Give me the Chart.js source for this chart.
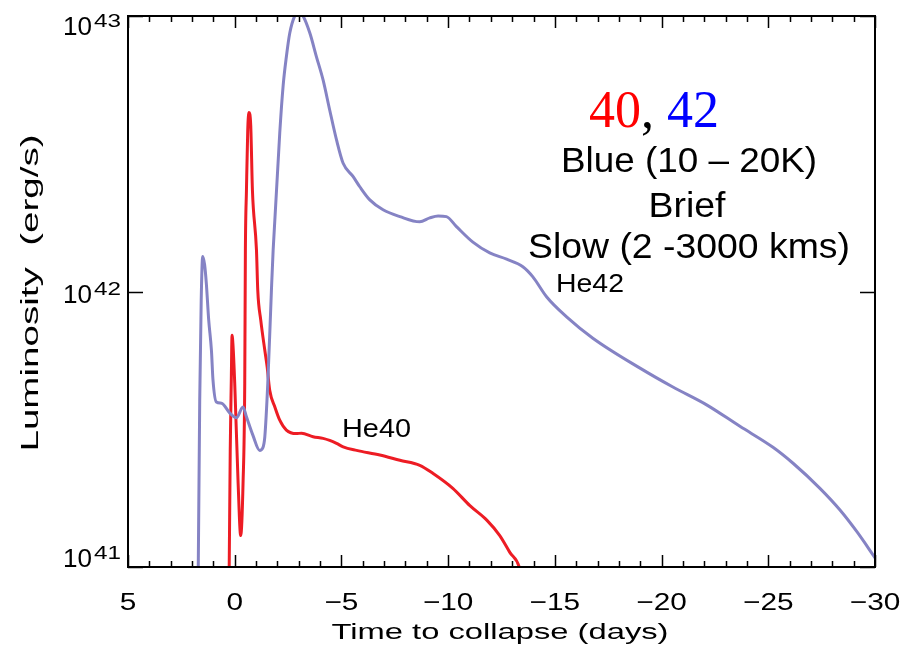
<html lang="en">
<head>
  <meta charset="UTF-8">
  <title>He40 / He42 luminosity</title>
  <script src="https://cdn.jsdelivr.net/npm/chart.js"></script>
  <style>
    body, html {
      margin: 0;
      padding: 0;
      background-color: #ffffff;
    }
    #lumChart {
      display: block;
    }
  </style>
</head>
<body>
  <canvas id="lumChart" width="908" height="654"></canvas>

  <script>
    // He42 (purple) - days to collapse vs luminosity
    const he42Days = [1.74, 1.64, 1.57, 1.50, 1.41, 1.33, 1.22, 1.09, 1.02, 0.86, 0.62, 0.23, -0.08, -0.39, -0.55,
      -0.85, -1.17, -1.31, -1.41, -1.55, -1.72, -1.80, -2.11, -2.27, -2.42, -2.58, -2.81, -3.0, -3.20, -3.52,
      -3.83, -4.14, -4.45, -4.77, -5.08, -5.55, -5.86, -6.33, -6.95, -7.74, -8.67, -9.14, -9.53, -9.92, -10.39,
      -11.16, -11.95, -12.74, -13.50, -13.97, -14.61, -15.55, -16.78, -18.99, -20.53, -22.13, -23.67, -25.22,
      -26.16, -27.42, -28.36, -29.16, -30.0];
    const he42Lum = [5e40, 4.0e41, 9.3e41, 1.34e42, 1.25e42, 1.07e42, 7.9e41, 6.1e41, 4.8e41, 3.97e41, 3.93e41, 3.62e41, 3.48e41, 3.81e41, 3.51e41,
      3.01e41, 2.65e41, 2.70e41, 2.97e41, 4.65e41, 1.01e42, 1.41e42, 3.76e42, 5.6e42, 7.11e42, 8.67e42, 1.0e43, 1.03e43, 1.0e43, 8.67e42,
      7.11e42, 5.86e42, 4.56e42, 3.55e42, 2.92e42, 2.61e42, 2.40e42, 2.15e42, 1.98e42, 1.87e42, 1.79e42, 1.85e42, 1.88e42, 1.87e42, 1.72e42,
      1.51e42, 1.38e42, 1.31e42, 1.23e42, 1.13e42, 9.57e41, 8.09e41, 6.77e41, 5.27e41, 4.50e41, 3.87e41, 3.24e41, 2.72e41,
      2.38e41, 1.93e41, 1.61e41, 1.34e41, 1.08e41];

    // He40 (red)
    const he40Days = [0.29, 0.21, 0.16, 0.125, 0.08, 0.0, -0.16, -0.28, -0.39, -0.47, -0.50, -0.55, -0.61, -0.67, -0.75,
      -0.83, -1.02, -1.08, -1.22, -1.41, -1.52, -1.64, -1.88, -2.11, -2.42, -2.89, -3.13, -3.67, -4.14, -4.45,
      -4.77, -5.08, -5.71, -6.80, -7.74, -8.67, -9.28, -10.22, -11.02, -11.81, -12.42, -12.89, -13.33, -13.45];
    const he40Lum = [5e40, 2.65e41, 4.77e41, 6.94e41, 6.38e41, 4.65e41, 2.01e41, 1.30e41, 2.01e41, 4.65e41, 1.41e42, 2.33e42, 3.85e42, 4.46e42, 4.02e42,
      2.33e42, 1.41e42, 1.01e42, 7.87e41, 6.12e41, 5.33e41, 4.38e41, 3.81e41, 3.41e41, 3.14e41, 3.05e41, 3.06e41, 2.97e41, 2.93e41, 2.88e41,
      2.81e41, 2.73e41, 2.65e41, 2.55e41, 2.44e41, 2.34e41, 2.19e41, 1.93e41, 1.67e41, 1.48e41, 1.30e41, 1.13e41, 1.0e41, 9e40];

    const xMajorTicks = [5, 0, -5, -10, -15, -20, -25, -30];
    const yMajorTicks = [1e41, 1e42, 1e43];

    const toPoints = (xs, ys) => xs.map((x, i) => ({ x: x, y: ys[i] }));

    // wide glyphs like the IDL vector font: stretch text to a width
    function stretchText(ctx, text, x, y, width, align) {
      const w = ctx.measureText(text).width;
      ctx.save();
      ctx.translate(x, y);
      ctx.scale(width / w, 1);
      ctx.textAlign = align;
      ctx.fillText(text, 0, 0);
      ctx.restore();
    }

    const framePlugin = {
      id: 'idlFrame',
      afterDatasetsDraw(chart) {
        const ctx = chart.ctx;
        const xs = chart.scales.x;
        const ys = chart.scales.y;
        const a = chart.chartArea;
        ctx.save();
        ctx.strokeStyle = '#000';
        ctx.fillStyle = '#000';
        ctx.lineWidth = 2;
        ctx.strokeRect(a.left, a.top, a.right - a.left, a.bottom - a.top);

        // x ticks, top and bottom, minor every day
        ctx.lineWidth = 1.5;
        for (let d = -30; d <= 5; d++) {
          const px = Math.round(xs.getPixelForValue(d)) + 0.5;
          const len = (d % 5 === 0) ? 12 : 6;
          ctx.beginPath();
          ctx.moveTo(px, a.bottom); ctx.lineTo(px, a.bottom - len);
          ctx.moveTo(px, a.top); ctx.lineTo(px, a.top + len);
          ctx.stroke();
        }
        // y ticks, left and right
        yMajorTicks.forEach(v => {
          const py = Math.round(ys.getPixelForValue(v)) + 0.5;
          ctx.beginPath();
          ctx.moveTo(a.left, py); ctx.lineTo(a.left + 15, py);
          ctx.moveTo(a.right, py); ctx.lineTo(a.right - 15, py);
          ctx.stroke();
        });

        ctx.textBaseline = 'alphabetic';

        // x tick labels
        ctx.font = '24px "Liberation Sans"';
        xMajorTicks.forEach(v => {
          const label = v < 0 ? '\u2212' + Math.abs(v) : String(v);
          const w = ctx.measureText(label).width * 1.24;
          stretchText(ctx, label, xs.getPixelForValue(v), 610, w, 'center');
        });

        // y tick labels 10^n
        const yLabelBase = { 41: 567, 42: 303, 43: 35 };
        yMajorTicks.forEach(v => {
          const e = Math.round(Math.log10(v));
          const base = yLabelBase[e];
          ctx.font = '18px "Liberation Sans"';
          stretchText(ctx, String(e), 121, base - 8, 27, 'right');
          ctx.font = '26px "Liberation Sans"';
          stretchText(ctx, '10', 92, base, 29, 'right');
        });

        // axis titles
        ctx.font = '22px "Liberation Sans"';
        stretchText(ctx, 'Time to collapse (days)', 500, 639, 337, 'center');
        ctx.save();
        ctx.translate(38, 293);
        ctx.rotate(-Math.PI / 2);
        ctx.font = '23px "Liberation Sans"';
        stretchText(ctx, 'Luminosity  (erg/s)', 0, 0, 317, 'center');
        ctx.restore();

        // curve labels
        ctx.font = '25px "Liberation Sans"';
        stretchText(ctx, 'He40', 342, 437, 69, 'left');
        stretchText(ctx, 'He42', 556, 292, 68, 'left');

        // annotation block
        ctx.font = '52px "Liberation Serif"';
        ctx.textAlign = 'left';
        let tx = 589;
        ctx.fillStyle = '#ff0000';
        ctx.fillText('40', tx, 127);
        tx += ctx.measureText('40').width;
        ctx.fillStyle = '#000000';
        ctx.fillText(', ', tx, 127);
        tx += ctx.measureText(', ').width;
        ctx.fillStyle = '#0000ff';
        ctx.fillText('42', tx, 127);

        ctx.fillStyle = '#000000';
        ctx.font = '35px "Liberation Sans"';
        stretchText(ctx, 'Blue (10 \u2013 20K)', 689, 172, 256, 'center');
        stretchText(ctx, 'Brief', 687, 217, 77, 'center');
        stretchText(ctx, 'Slow (2 -3000 kms)', 689, 258, 322, 'center');
        ctx.restore();
      }
    };

    const ctx = document.getElementById('lumChart').getContext('2d');
    const lumChart = new Chart(ctx, {
      type: 'scatter',
      data: {
        datasets: [
          {
            label: 'He42',
            data: toPoints(he42Days, he42Lum),
            showLine: true,
            borderColor: 'rgb(133,131,196)',
            borderWidth: 3,
            pointRadius: 0,
            cubicInterpolationMode: 'monotone'
          },
          {
            label: 'He40',
            data: toPoints(he40Days, he40Lum),
            showLine: true,
            borderColor: 'rgb(237,28,36)',
            borderWidth: 3,
            pointRadius: 0,
            cubicInterpolationMode: 'monotone'
          }
        ]
      },
      options: {
        responsive: false,
        animation: false,
        layout: {
          padding: { left: 128, right: 33, top: 16, bottom: 87 }
        },
        scales: {
          x: {
            type: 'linear',
            min: -30,
            max: 5,
            reverse: true,
            display: false
          },
          y: {
            type: 'logarithmic',
            min: 1e41,
            max: 1e43,
            display: false
          }
        },
        plugins: {
          legend: { display: false },
          tooltip: { enabled: false }
        }
      },
      plugins: [framePlugin]
    });
  </script>
</body>
</html>
